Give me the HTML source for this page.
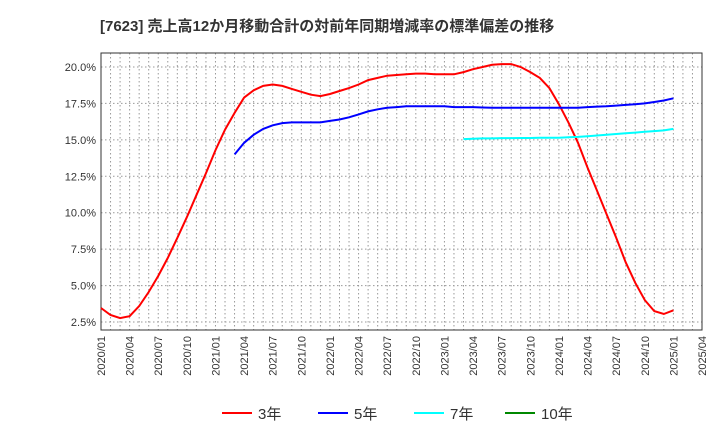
<!DOCTYPE html>
<html><head><meta charset="utf-8"><style>
body{margin:0;background:#fff;font-family:"Liberation Sans","Noto Sans CJK JP",sans-serif}
</style></head><body>
<svg width="720" height="440" xmlns="http://www.w3.org/2000/svg" font-family="Liberation Sans, Noto Sans CJK JP, sans-serif">
<text x="100" y="31" font-size="15" font-weight="bold" fill="#333">[7623]  売上高12か月移動合計の対前年同期増減率の標準偏差の推移</text>
<g id="grid"></g><g id="axes"></g><g id="series"></g>
<g id="legend"></g>
</svg>
<script>
const s3=[3.46,2.98,2.77,2.9,3.6,4.56,5.66,6.9,8.27,9.7,11.2,12.7,14.3,15.7,16.85,17.9,18.4,18.7,18.8,18.7,18.5,18.3,18.1,18.0,18.15,18.35,18.55,18.8,19.1,19.25,19.4,19.45,19.5,19.55,19.55,19.5,19.5,19.5,19.65,19.85,20.0,20.15,20.2,20.2,20.0,19.65,19.25,18.55,17.45,16.2,14.8,13.1,11.5,9.9,8.3,6.6,5.2,4.0,3.25,3.05,3.3];
const s5start=14;
const s5=[14.0,14.8,15.35,15.75,16.0,16.15,16.2,16.2,16.2,16.2,16.3,16.4,16.55,16.75,16.95,17.1,17.2,17.25,17.3,17.3,17.3,17.3,17.3,17.25,17.25,17.25,17.22,17.2,17.2,17.2,17.2,17.2,17.2,17.2,17.2,17.2,17.2,17.25,17.28,17.3,17.35,17.4,17.45,17.5,17.6,17.7,17.85];
const s7start=38;
const s7=[15.05,15.08,15.1,15.1,15.12,15.12,15.13,15.13,15.14,15.15,15.15,15.18,15.2,15.25,15.3,15.35,15.4,15.45,15.5,15.55,15.6,15.65,15.75];
const yTicks=[2.5,5,7.5,10,12.5,15,17.5,20];
const xLabels=["2020/01","2020/04","2020/07","2020/10","2021/01","2021/04","2021/07","2021/10","2022/01","2022/04","2022/07","2022/10","2023/01","2023/04","2023/07","2023/10","2024/01","2024/04","2024/07","2024/10","2025/01","2025/04"];
const L=101,R=702,T=53,B=330,months=63;
const X=i=>L+(R-L)*i/months;
const Y=v=>322-(v-2.5)*(255/17.5);
const NS="http://www.w3.org/2000/svg";
function mk(tag,attrs,parent){const e=document.createElementNS(NS,tag);for(const k in attrs)e.setAttribute(k,attrs[k]);parent.appendChild(e);return e;}
const grid=document.getElementById('grid'),axes=document.getElementById('axes'),ser=document.getElementById('series'),leg=document.getElementById('legend');
for(let i=1;i<months;i++){const l=mk('line',{x1:X(i),x2:X(i),y1:T,y2:B,stroke:'#999','stroke-dasharray':'1.5,2.5'},grid);}
yTicks.forEach(v=>{const l=mk('line',{x1:L,x2:R,y1:Y(v),y2:Y(v),stroke:'#999','stroke-dasharray':'1.5,2.5'},grid);
const t=mk('text',{x:L-5,y:Y(v)+4,'text-anchor':'end','font-size':'11',fill:'#333'},axes);t.textContent=v.toFixed(1)+'%';});
xLabels.forEach((s,k)=>{const x=X(k*3);const t=mk('text',{x:x+4,y:B+6,'text-anchor':'end','font-size':'11',fill:'#333',transform:`rotate(-90 ${x+4} ${B+6})`},axes);t.textContent=s;});
const fr=mk('rect',{x:L,y:T,width:R-L,height:B-T,fill:'none',stroke:'#333'},axes);
function line(arr,start,color,name){const p=arr.map((v,i)=>X(start+i).toFixed(1)+','+Y(v).toFixed(1)).join(' ');const e=mk('polyline',{points:p,fill:'none',stroke:color,'stroke-width':2},ser);}
line(s3,0,'#f00','series-3yr');line(s5,s5start,'#00f','series-5yr');line(s7,s7start,'#0ff','series-7yr');
[["3年","#f00",222],["5年","#00f",318],["7年","#0ff",414],["10年","#080",505]].forEach(([n,c,x])=>{const g=mk('g',{},leg);
mk('line',{x1:x,x2:x+30,y1:413,y2:413,stroke:c,'stroke-width':2},g);const t=mk('text',{x:x+36,y:419,'font-size':'15',fill:'#333'},g);t.textContent=n;});
</script>
</body></html>
